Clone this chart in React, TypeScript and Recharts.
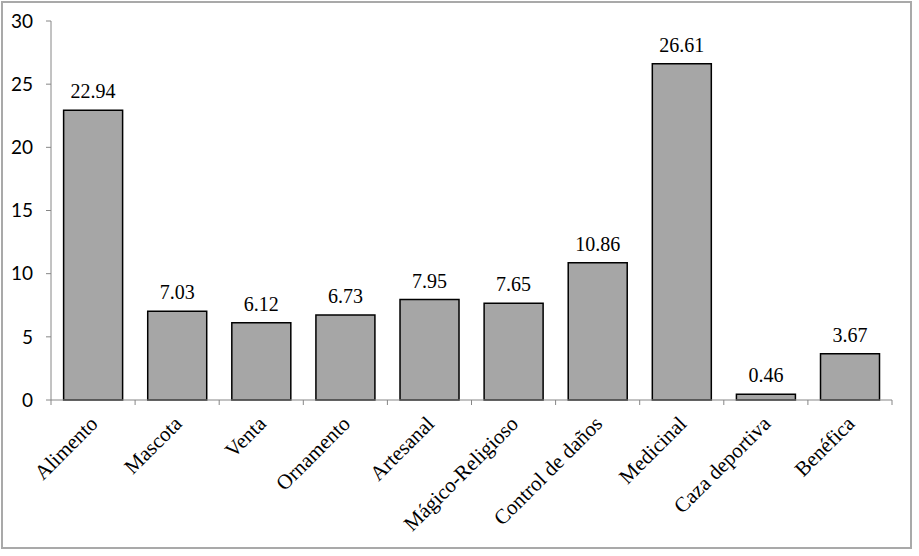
import { Bar, BarChart, LabelList, XAxis, YAxis } from "recharts";

const categories = [
  "Alimento",
  "Mascota",
  "Venta",
  "Ornamento",
  "Artesanal",
  "Mágico-Religioso",
  "Control de daños",
  "Medicinal",
  "Caza deportiva",
  "Benéfica",
];
const values = [22.94, 7.03, 6.12, 6.73, 7.95, 7.65, 10.86, 26.61, 0.46, 3.67];
const yTicks = [0, 5, 10, 15, 20, 25, 30];

const data = categories.map((name, i) => ({ name, value: values[i] }));

const WIDTH = 919;
const HEIGHT = 556;
const MARGIN = { top: 21, right: 27, left: 0, bottom: 0 };
const Y_AXIS_W = 51;
const HALF_BAND = (WIDTH - MARGIN.left - MARGIN.right - Y_AXIS_W) / categories.length / 2;
const AXIS_GREY = "#868686";
const SERIF = "'Liberation Serif', 'Times New Roman', serif";

const CategoryTick = (props: any) => {
  const { x, y, payload, index } = props;
  const base = y - 5;
  const ax = x + 6;
  const ay = base + 25;
  return (
    <g>
      <line x1={x - HALF_BAND} x2={x - HALF_BAND} y1={base} y2={base + 5} stroke={AXIS_GREY} />
      {index === categories.length - 1 && (
        <line x1={x + HALF_BAND} x2={x + HALF_BAND} y1={base} y2={base + 5} stroke={AXIS_GREY} />
      )}
      <text
        x={ax}
        y={ay}
        transform={`rotate(-45, ${ax}, ${ay})`}
        textAnchor="end"
        fontFamily={SERIF}
        fontSize={21}
        fill="#000"
      >
        {payload.value}
      </text>
    </g>
  );
};

export default function App() {
  return (
    <div style={{ position: "absolute", left: 0, top: 0, width: WIDTH, height: HEIGHT, background: "#fff" }}>
      <div
        style={{
          position: "absolute",
          left: 1,
          top: 1,
          width: 911,
          height: 548,
          boxSizing: "border-box",
          border: "2px solid #a9a9a9",
        }}
      />
      <BarChart width={WIDTH} height={HEIGHT} data={data} margin={MARGIN} barCategoryGap="15%">
        <XAxis
          dataKey="name"
          height={156}
          interval={0}
          tickLine={false}
          tickSize={5}
          tickMargin={0}
          axisLine={{ stroke: AXIS_GREY }}
          tick={<CategoryTick />}
        />
        <YAxis
          width={Y_AXIS_W}
          domain={[0, 30]}
          ticks={yTicks}
          interval={0}
          tickSize={5}
          tickMargin={13}
          axisLine={{ stroke: AXIS_GREY }}
          tickLine={{ stroke: AXIS_GREY }}
          tick={{ fill: "#000", fontSize: 19, fontFamily: "Lato, 'Open Sans', sans-serif" }}
        />
        <Bar dataKey="value" fill="#a6a6a6" stroke="#000" strokeWidth={1.5} isAnimationActive={false}>
          <LabelList
            dataKey="value"
            position="top"
            offset={12}
            fill="#000"
            fontSize={20}
            fontFamily={SERIF}
            formatter={(v: any) => Number(v).toFixed(2)}
          />
        </Bar>
      </BarChart>
    </div>
  );
}
